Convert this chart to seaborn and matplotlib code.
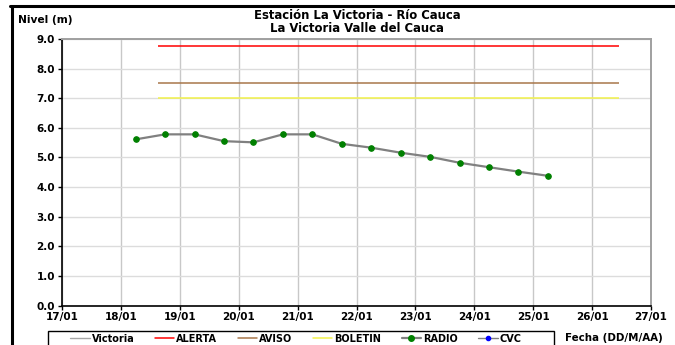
import numpy as np
import pandas as pd
import matplotlib
matplotlib.use("Agg")
import matplotlib.pyplot as plt
import matplotlib.dates as mdates
from matplotlib.lines import Line2D
from matplotlib.patches import Rectangle
import seaborn as sns

# ─── Data ────────────────────────────────────────────────────────────────────
radio_times = pd.to_datetime([
    "2011-01-18 06:00", "2011-01-18 18:00", "2011-01-19 06:00", "2011-01-19 18:00",
    "2011-01-20 06:00", "2011-01-20 18:00", "2011-01-21 06:00", "2011-01-21 18:00",
    "2011-01-22 06:00", "2011-01-22 18:00", "2011-01-23 06:00", "2011-01-23 18:00",
    "2011-01-24 06:00", "2011-01-24 18:00", "2011-01-25 06:00",
])
radio_levels = [5.61, 5.78, 5.78, 5.55, 5.51, 5.78, 5.78, 5.46,
                5.33, 5.16, 5.02, 4.82, 4.67, 4.52, 4.38]

threshold_names = ["ALERTA", "AVISO", "BOLETIN"]
threshold_levels = [8.75, 7.5, 7.0]
threshold_start = pd.Timestamp("2011-01-18 15:00")
threshold_end = pd.Timestamp("2011-01-26 11:00")

x_min = pd.Timestamp("2011-01-17")
x_max = pd.Timestamp("2011-01-27")
y_ticks = [0, 1, 2, 3, 4, 5, 6, 7, 8, 9]

title = "Estación La Victoria - Río Cauca\nLa Victoria Valle del Cauca"

# ─── Styling ─────────────────────────────────────────────────────────────────
sns.set_style("white")
plt.rcParams["font.family"] = ["DejaVu Sans"]
plt.rcParams["font.weight"] = "bold"
plt.rcParams["text.color"] = "black"
plt.rcParams["xtick.color"] = "black"
plt.rcParams["ytick.color"] = "black"

colors = {"Victoria": "#a6a6a6", "ALERTA": "#ff0000", "AVISO": "#a8764a",
          "BOLETIN": "#f2f24a", "RADIO": "#808080", "CVC": "#808080"}

fig = plt.figure(figsize=(6.75, 3.45), dpi=100)
ax = fig.add_axes([62 / 675, 1 - 305.5 / 345, 589 / 675, 266.5 / 345])

# thresholds
for name, lvl in zip(threshold_names, threshold_levels):
    ax.hlines(lvl, threshold_start, threshold_end, color=colors[name], lw=1.1, zorder=3)

# measured level
df = pd.DataFrame({"fecha": radio_times, "nivel": radio_levels})
sns.lineplot(data=df, x="fecha", y="nivel", ax=ax, color=colors["RADIO"], lw=1.6,
             marker="o", markersize=4, markerfacecolor="#008000",
             markeredgecolor="#008000", zorder=4)

ax.set_xlim(x_min, x_max)
ax.set_ylim(0, 9)
ax.set_yticks(y_ticks)
ax.yaxis.set_major_formatter(matplotlib.ticker.FormatStrFormatter("%.1f"))
ax.xaxis.set_major_locator(mdates.DayLocator())
ax.xaxis.set_major_formatter(mdates.DateFormatter("%d/%m"))
ax.set_xlabel("")
ax.set_ylabel("")

ax.grid(axis="y", color="#dcdcdc", lw=1.0)
ax.grid(axis="x", color="#c8c8c8", lw=1.0)
ax.set_axisbelow(True)
for s in ["left", "bottom"]:
    ax.spines[s].set_color("black")
    ax.spines[s].set_linewidth(1.2)
for s in ["top", "right"]:
    ax.spines[s].set_color("#a0a0a0")
    ax.spines[s].set_linewidth(1.4)
ax.tick_params(axis="both", which="major", direction="out", length=3, width=1,
               color="black", labelsize=7.5, pad=2, left=True, bottom=True)
for lab in ax.get_xticklabels() + ax.get_yticklabels():
    lab.set_fontweight("bold")

fig.text(357 / 675, 1 - 22 / 345, title, fontsize=8.4, fontweight="bold",
         ha="center", va="center", linespacing=1.05)
fig.text(18 / 675, 1 - 20 / 345, "Nivel (m)", fontsize=7.7, fontweight="bold",
         ha="left", va="center")
fig.text(565 / 675, 1 - 338 / 345, "Fecha (DD/M/AA)", fontsize=7.4,
         fontweight="bold", ha="left", va="center")

# legend: box drawn separately, entries centred inside it
fig.add_artist(Rectangle((48 / 675, -0.02), 506 / 675, 0.02 + 14 / 345,
                         transform=fig.transFigure, facecolor="white",
                         edgecolor="black", lw=1.0, zorder=1))
handles = [
    Line2D([], [], color=colors["Victoria"], lw=1.0),
    Line2D([], [], color=colors["ALERTA"], lw=1.1),
    Line2D([], [], color=colors["AVISO"], lw=1.1),
    Line2D([], [], color=colors["BOLETIN"], lw=1.1),
    Line2D([], [], color=colors["RADIO"], lw=1.6, marker="o", markersize=4,
           markerfacecolor="#008000", markeredgecolor="#008000"),
    Line2D([], [], color=colors["CVC"], lw=1.0, marker="o", markersize=3,
           markerfacecolor="#0000ff", markeredgecolor="#0000ff"),
]
labels = ["Victoria", "ALERTA", "AVISO", "BOLETIN", "RADIO", "CVC"]
leg = fig.legend(handles, labels, loc="center", ncol=6,
                 bbox_to_anchor=(296 / 675, 1 - 338.5 / 345),
                 prop={"size": 7, "weight": "bold"}, frameon=False,
                 handlelength=2.0, handletextpad=0.2, columnspacing=2.1,
                 borderpad=0, borderaxespad=0)
leg.set_zorder(2)

# outer frame (top and left edges of the picture)
fig.add_artist(Line2D([10 / 675, 1], [1 - 5.5 / 345, 1 - 5.5 / 345], color="black",
                      lw=2.2, transform=fig.transFigure))
fig.add_artist(Line2D([11.5 / 675, 11.5 / 675], [0, 1 - 5.5 / 345], color="black",
                      lw=2.2, transform=fig.transFigure))

fig.savefig("out.png", dpi=100)
